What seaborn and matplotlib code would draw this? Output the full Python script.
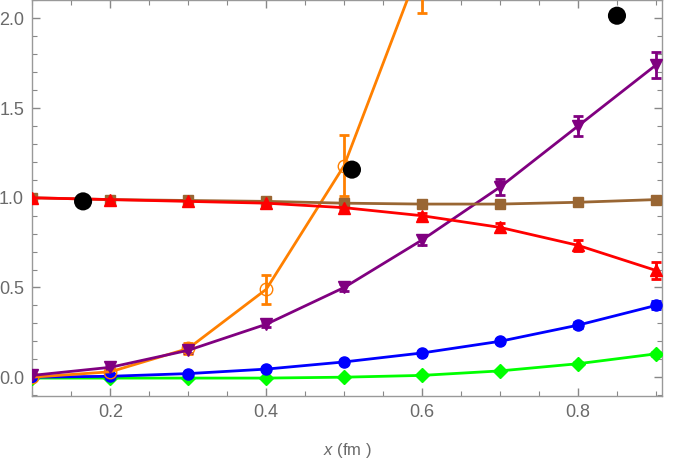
import matplotlib
matplotlib.use("Agg")
import matplotlib.pyplot as plt
import numpy as np
import pandas as pd
import seaborn as sns
from matplotlib.ticker import MultipleLocator

x = [0.1, 0.2, 0.3, 0.4, 0.5, 0.6, 0.7, 0.8, 0.9]

green = [-0.005, -0.005, -0.005, -0.005, 0.0, 0.01, 0.035, 0.075, 0.13]
green_err = [0.0, 0.0, 0.0, 0.0, 0.0, 0.003, 0.005, 0.008, 0.012]
blue = [0.0, 0.005, 0.02, 0.045, 0.085, 0.135, 0.20, 0.29, 0.40]
blue_err = [0.0, 0.0, 0.002, 0.004, 0.006, 0.009, 0.012, 0.016, 0.022]
orange = [0.0, 0.03, 0.16, 0.49, 1.18, 2.32]
orange_err = [0.0, 0.01, 0.03, 0.08, 0.17, 0.29]
purple = [0.01, 0.055, 0.15, 0.295, 0.50, 0.765, 1.06, 1.40, 1.74]
purple_err = [0.01, 0.01, 0.015, 0.015, 0.022, 0.03, 0.045, 0.055, 0.07]
brown = [1.0, 0.99, 0.985, 0.98, 0.97, 0.965, 0.965, 0.975, 0.99]
brown_err = [0.003, 0.003, 0.004, 0.005, 0.006, 0.007, 0.008, 0.01, 0.013]
red = [1.0, 0.99, 0.98, 0.97, 0.945, 0.90, 0.835, 0.735, 0.595]
red_err = [0.004, 0.006, 0.008, 0.012, 0.015, 0.018, 0.025, 0.032, 0.045]

black_x = [0.165, 0.51, 0.85]
black_y = [0.98, 1.157, 2.015]

sns.set_style("white")
plt.rcParams["font.family"] = ["Liberation Sans", "DejaVu Sans"]
plt.rcParams["mathtext.fontset"] = "custom"
plt.rcParams["mathtext.it"] = "Liberation Sans:italic"

fig, ax = plt.subplots(figsize=(6.75, 4.67), dpi=100)
fig.subplots_adjust(left=0.048, right=0.981, bottom=0.152, top=0.999)

series = [
    (green, green_err, "#00ff00", "D", True, 7),
    (blue, blue_err, "#0000ff", "o", True, 8),
    (orange, orange_err, "#ff8000", "o", False, 9),
    (purple, purple_err, "#800080", "v", True, 8),
    (brown, brown_err, "#996633", "s", True, 6.5),
    (red, red_err, "#ff0000", "^", True, 8),
]

for vals, errs, col, mk, filled, ms in series:
    xs = x[:len(vals)]
    df = pd.DataFrame({"x": xs, "y": vals})
    ax.errorbar(xs, vals, yerr=errs, fmt="none", ecolor=col, elinewidth=2,
                capsize=3.5, capthick=2, zorder=3)
    sns.lineplot(data=df, x="x", y="y", ax=ax, color=col, linewidth=2,
                 marker=mk, markersize=ms,
                 markerfacecolor=col if filled else "none",
                 markeredgecolor=col, markeredgewidth=1 if filled else 1.0,
                 zorder=4)

sns.scatterplot(x=black_x, y=black_y, ax=ax, color="black", s=170,
                edgecolor="none", zorder=6)

ax.set_xlim(0.1, 0.908)
ax.set_ylim(-0.105, 2.10)
ax.xaxis.set_major_locator(MultipleLocator(0.2))
ax.xaxis.set_minor_locator(MultipleLocator(0.05))
ax.yaxis.set_major_locator(MultipleLocator(0.5))
ax.yaxis.set_minor_locator(MultipleLocator(0.1))
ax.tick_params(which="both", direction="in", top=True, right=True,
               bottom=True, left=True, colors="#888888", labelcolor="#6a6a6a",
               labelsize=13)
ax.tick_params(which="major", length=6, width=1, pad=6)
ax.tick_params(which="minor", length=3.5, width=0.8)
for s in ax.spines.values():
    s.set_color("#999999")
    s.set_linewidth(1)

ax.set_ylabel("")
ax.set_xlabel(r"$x$ (fm )", color="#6a6a6a", fontsize=12, labelpad=14)

fig.savefig("out.png", dpi=100)
